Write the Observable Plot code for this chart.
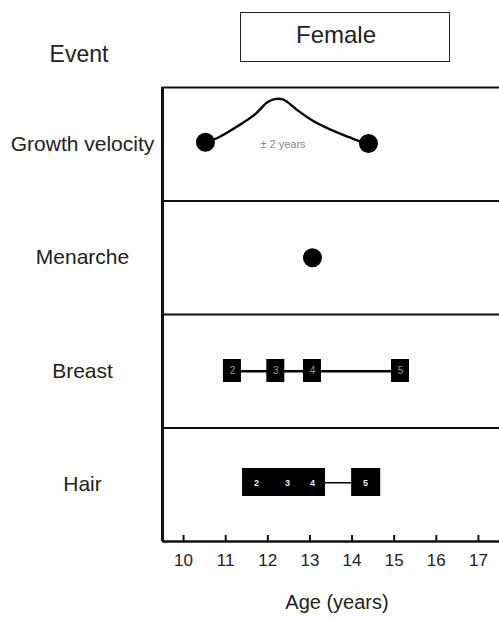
<!DOCTYPE html>
<html>
<head>
<meta charset="utf-8">
<script src="https://cdn.jsdelivr.net/npm/d3@7"></script>
<script src="https://cdn.jsdelivr.net/npm/@observablehq/plot@0.6"></script>
<style>
  body { margin: 0; background: #fff; font-family: "Liberation Sans", Arial, sans-serif; color: #222; }
  #wrap { position: relative; width: 499px; height: 619px; overflow: hidden; }
  #header { position: relative; height: 80px; }
  #event { position: absolute; left: 0; width: 158px; top: 43px; font-size: 23px; line-height: 23px; text-align: center; }
  #box { position: absolute; left: 240px; top: 12px; width: 210px; height: 50px; box-sizing: border-box; border: 1.5px solid #222; }
  #female { position: absolute; left: 240px; width: 192px; top: 23px; font-size: 24px; line-height: 24px; text-align: center; }
  #chart svg { display: block; }
</style>
</head>
<body>
<div id="wrap">
  <div id="header">
    <div id="event">Event</div>
    <div id="box"></div>
    <div id="female">Female</div>
  </div>
  <div id="chart"></div>
</div>
<script>
// ---- data ----
const events = ["Growth velocity", "Menarche", "Breast", "Hair"];
const ageTicks = [10, 11, 12, 13, 14, 15, 16, 17];
const axisTitle = "Age (years)";

// growth velocity curve: age and height of the curve within its row (0 = row bottom, 1 = row top)
const velocityAges   = [10.52, 10.84, 11.31, 11.71, 11.99, 12.19, 12.38, 12.66, 13.06, 13.45, 13.93, 14.24, 14.39];
const velocityLevels = [0.518, 0.562, 0.665, 0.768, 0.870, 0.900, 0.892, 0.812, 0.709, 0.636, 0.562, 0.518, 0.507];
const velocityNote = "± 2 years";
const velocityNoteAge = 12.36;

const menarcheAge = [13.06];

const breastStages = ["2", "3", "4", "5"];
const breastAges   = [11.16, 12.19, 13.06, 15.15];

const hairStages     = ["2", "3", "4", "5"];
const hairAges       = [11.73, 12.47, 13.06, 14.32];
const hairBlockStart = [11.40, 13.99];
const hairBlockEnd   = [13.37, 14.68];

// ---- derived tables ----
const rowBase = name => events.length - 1 - events.indexOf(name);
const gv = rowBase("Growth velocity");
const velocity = velocityAges.map((a, i) => ({age: a, level: gv + velocityLevels[i]}));
const velocityEnds = [velocity[0], velocity[velocity.length - 1]];
const br = rowBase("Breast");
const breast = breastAges.map((a, i) => ({age: a, stage: breastStages[i]}));
const hr = rowBase("Hair");
const hair = hairAges.map((a, i) => ({age: a, stage: hairStages[i]}));
const hairBlocks = hairBlockStart.map((s, i) => ({start: s, end: hairBlockEnd[i]}));
const mr = rowBase("Menarche");
const rowCenters = events.map(e => rowBase(e) + 0.5);

const H = 539, MT = 7, MB = 78;
const chart = Plot.plot({
  width: 499,
  height: H,
  marginTop: MT,
  marginBottom: MB,
  marginLeft: 162,
  marginRight: 0,
  x: {domain: [9.5, 17.5]},
  y: {domain: [0, events.length]},
  style: {fontFamily: '"Liberation Sans", Arial, sans-serif', color: "#222", background: "#fff"},
  marks: [
    Plot.ruleY(d3.range(1, events.length + 1), {stroke: "#111", strokeWidth: 2}),
    // upward tick marks standing on the axis line
    Plot.tickX(ageTicks, {x: d => d, insetTop: H - MT - MB - 6, stroke: "#111", strokeWidth: 2}),
    // tick labels
    Plot.axisX({ticks: ageTicks, tickSize: 0, tickPadding: 12, fontSize: 17, label: null, tickFormat: d => String(d)}),
    Plot.ruleY([0], {stroke: "#111", strokeWidth: 2.5}),
    Plot.ruleX([9.5], {stroke: "#111", strokeWidth: 3}),
    Plot.axisY({ticks: rowCenters, tickSize: 0, tickPadding: 80, textAnchor: "middle", fontSize: 21, label: null,
      tickFormat: d => events[events.length - 1 - Math.floor(d)]}),
    Plot.text([axisTitle], {frameAnchor: "bottom", text: d => d, dx: 6, dy: 67, fontSize: 20, fill: "#222"}),

    // growth velocity
    Plot.line(velocity, {x: "age", y: "level", curve: "catmull-rom", stroke: "#000", strokeWidth: 2.4}),
    Plot.dot(velocityEnds, {x: "age", y: "level", r: 9.5, fill: "#000", stroke: "none"}),
    Plot.text([velocityNote], {x: velocityNoteAge, y: gv + 0.5, text: d => d, fontSize: 11, fill: "#888"}),

    // menarche
    Plot.dot(menarcheAge, {x: d => d, y: mr + 0.5, r: 9.5, fill: "#000", stroke: "none"}),

    // breast
    Plot.ruleY([br + 0.5], {x1: d3.min(breastAges), x2: d3.max(breastAges), stroke: "#000", strokeWidth: 2.5}),
    Plot.rect(breast, {x1: "age", x2: "age", y1: br, y2: br + 1, insetTop: 45, insetBottom: 45.5, insetLeft: -9, insetRight: -9, fill: "#000"}),
    Plot.text(breast, {x: "age", y: br + 0.5, text: "stage", fontSize: 10, fill: "#999"}),

    // hair
    Plot.ruleY([hr + 0.5], {x1: hairBlockEnd[0], x2: hairBlockStart[1], dy: -2, stroke: "#000", strokeWidth: 1.5}),
    Plot.rect(hairBlocks, {x1: "start", x2: "end", y1: hr, y2: hr + 1, insetTop: 40.5, insetBottom: 45, fill: "#000"}),
    Plot.text(hair, {x: "age", y: hr + 0.5, dy: -2, text: "stage", fontSize: 9, fontWeight: "bold", fill: "#eee"})
  ]
});
document.getElementById("chart").appendChild(chart);
</script>
</body>
</html>
